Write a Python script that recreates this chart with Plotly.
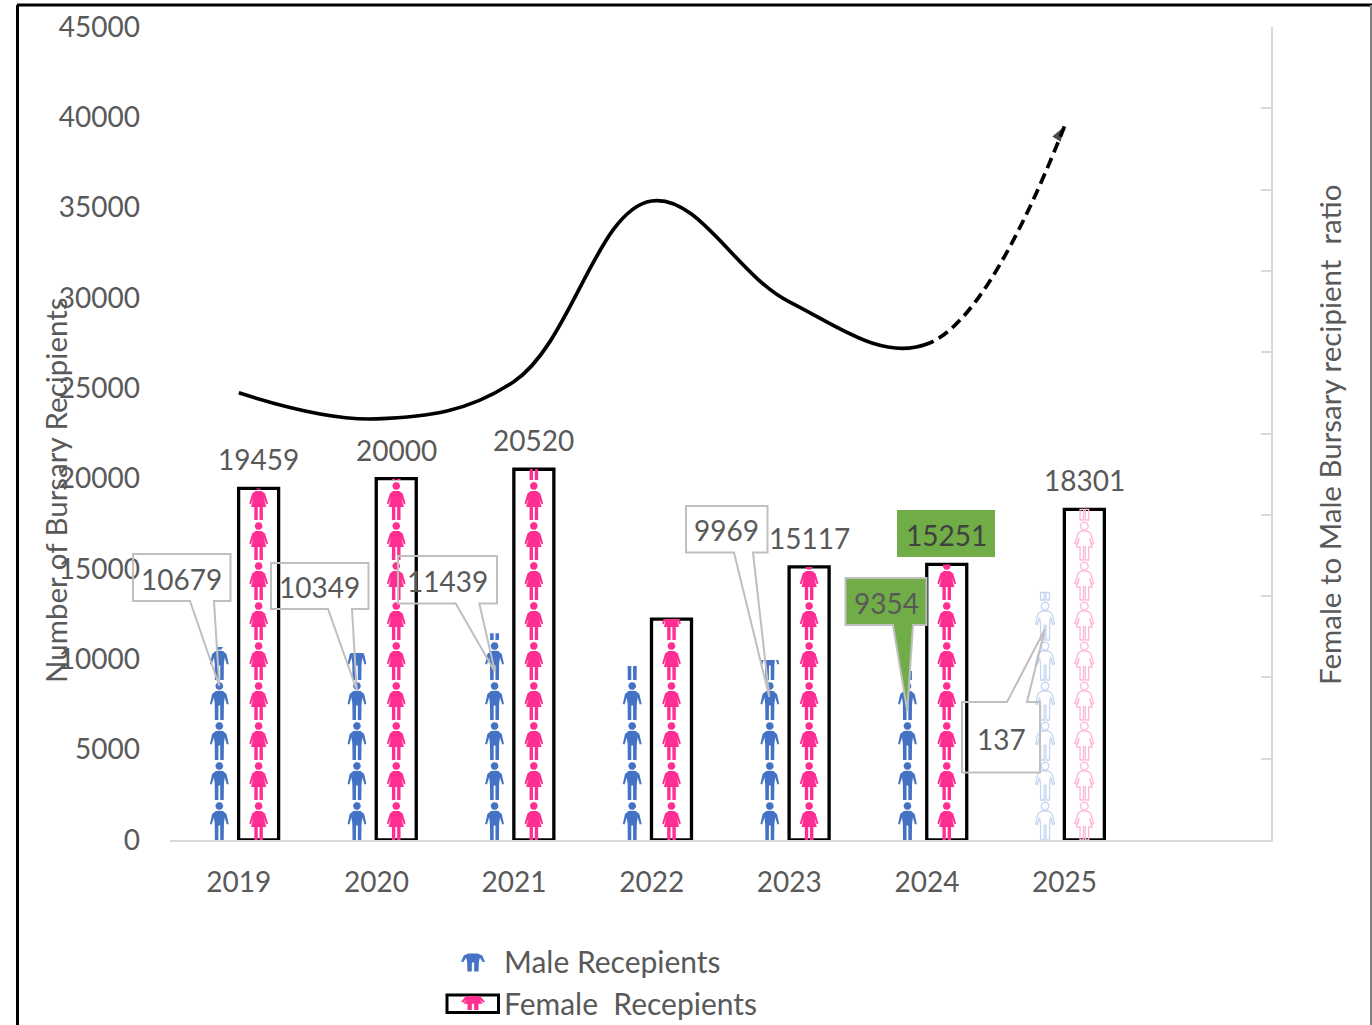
import math
import plotly.graph_objects as go

# Bursary recipients per year
years = ["2019", "2020", "2021", "2022", "2023", "2024", "2025"]
male_recipients = [10679, 10349, 11439, 9630, 9969, 9354, 13700]
female_recipients = [19459, 20000, 20520, 12230, 15117, 15251, 18301]
female_to_male_ratio = [2.75, 2.59, 2.82, 3.93, 3.31, 3.05, 4.39]
male_callout_text = ["10679", "10349", "11439", None, "9969", "9354", "137"]
left_ticks = [0, 5000, 10000, 15000, 20000, 25000, 30000, 35000, 40000, 45000]

# Plot area in page pixels
W, H = 1372, 1025
L, R, T, B = 170, 1271, 27, 840
PX_PER_CAT = (R - L) / 8
UNITS_PER_PX = 45000 / (B - T)
ICON_PX = 40
ICON_UNITS = ICON_PX * UNITS_PER_PX
MALE_OFFSET = -19.5 / PX_PER_CAT
FEMALE_OFFSET = 19.8 / PX_PER_CAT
FORECAST = 6  # the last year is a projection, drawn as hollow figures

GREY = "#595959"
FONT = "Lato"
BLUE, PINK = "#4472C4", "#FF2E93"
BLUE_PALE, PINK_PALE = "#C6D5F0", "#FFB8DC"


def circle(cx, cy, r, n=18):
    return [(cx + r * math.cos(2 * math.pi * k / n), cy + r * math.sin(2 * math.pi * k / n)) for k in range(n)]


def mirror(side):
    return side + [(-x, y) for x, y in reversed(side)]


# Figures in pixels: x from the centre line, y up from the foot of the cell
MAN = [
    circle(0, 34, 3.9),
    mirror([(0, 14.5), (0.9, 14.5), (0.9, 0), (4.4, 0), (4.6, 16), (5.4, 22.5), (7.6, 15.5), (9.4, 16),
            (7.2, 26), (3.6, 29), (0, 29.2)]),
]
WOMAN = [
    circle(0, 34, 3.9),
    mirror([(0, 13), (0.9, 13), (0.9, 0), (4.3, 0), (4.3, 13), (7.6, 13), (5.2, 22), (7.8, 15.5), (9.4, 16.5),
            (6.4, 26.5), (3.0, 29), (0, 29.2)]),
]


def clip_top(poly, ymax):
    """Cut a polygon off at a horizontal line, keeping what lies below it."""
    out = []
    for (x0, y0), (x1, y1) in zip(poly, poly[1:] + poly[:1]):
        in0, in1 = y0 <= ymax, y1 <= ymax
        if in0:
            out.append((x0, y0))
        if in0 != in1:
            t = (ymax - y0) / (y1 - y0)
            out.append((x0 + t * (x1 - x0), ymax))
    return out


def icon_stack(indices, values, offset, figure):
    """Stack figures up to each value, the last one cut to the remainder."""
    xs, ys = [], []
    for i, value in zip(indices, values):
        cells = math.ceil(value / ICON_UNITS)
        for c in range(cells):
            base = c * ICON_UNITS
            top_px = min((value - base) / UNITS_PER_PX, ICON_PX)
            for part in figure:
                poly = clip_top(part, top_px)
                if len(poly) < 3:
                    continue
                poly = poly + poly[:1]
                xs += [i + offset + px / PX_PER_CAT for px, _ in poly] + [None]
                ys += [base + py * UNITS_PER_PX for _, py in poly] + [None]
    return xs, ys


def paper_x(px):
    return (px - L) / (R - L)


def paper_y(py):
    return (B - py) / (B - T)


def path(points, close=True):
    d = "M" + " L".join(f"{paper_x(x):.5f},{paper_y(y):.5f}" for x, y in points)
    return d + (" Z" if close else "")


def page_label(px, py, text, size=28, colour=GREY, **extra):
    opts = dict(xanchor="center", yanchor="middle")
    opts.update(extra)
    return dict(x=paper_x(px), y=paper_y(py), xref="paper", yref="paper", text=text, showarrow=False,
                font=dict(family=FONT, size=size, color=colour), **opts)


fig = go.Figure()
indices = list(range(len(years)))
actual = indices[:FORECAST]

# Outlined female columns
fig.add_trace(go.Bar(
    x=[i + FEMALE_OFFSET for i in indices], y=female_recipients, width=40 / PX_PER_CAT,
    marker=dict(color="rgba(0,0,0,0)", line=dict(color="black", width=3.3)),
    showlegend=False, hoverinfo="skip",
))

# Figure columns: solid for recorded years, hollow for the projection
for values, offset, figure, solid, pale in [
    (male_recipients, MALE_OFFSET, MAN, BLUE, BLUE_PALE),
    (female_recipients, FEMALE_OFFSET, WOMAN, PINK, PINK_PALE),
]:
    xs, ys = icon_stack(actual, values[:FORECAST], offset, figure)
    fig.add_trace(go.Scatter(x=xs, y=ys, mode="lines", fill="toself", fillcolor=solid,
                             line=dict(color=solid, width=0), showlegend=False, hoverinfo="skip"))
    xs, ys = icon_stack([FORECAST], values[FORECAST:], offset, figure)
    fig.add_trace(go.Scatter(x=xs, y=ys, mode="lines", line=dict(color=pale, width=1.3),
                             showlegend=False, hoverinfo="skip"))

# Ratio curve: solid through 2024, dashed to the 2025 projection, arrow at the end
dash_pattern = "848px," + ",".join(["6px,11px"] * 20)
fig.add_trace(go.Scatter(
    x=indices, y=female_to_male_ratio, yaxis="y2", mode="lines+markers",
    line=dict(color="black", width=3.7, shape="spline", smoothing=1.1, dash=dash_pattern),
    marker=dict(symbol="arrow", angleref="previous", color="black",
                size=[0] * FORECAST + [16], line=dict(width=0)),
    showlegend=False, hoverinfo="skip",
))

# Female value labels above the columns
annotations = []
for i, value in enumerate(female_recipients):
    if i == 3:
        continue
    annotations.append(dict(x=i + FEMALE_OFFSET, y=value, xref="x", yref="y", yshift=29, text=str(value),
                            xanchor="center", yanchor="middle", showarrow=False,
                            font=dict(family=FONT, size=28, color="#404040" if i == 5 else GREY)))

shapes = []
# Callouts on the male columns: box left, right, top, bottom; tail start, tip, tail end
callouts = [
    (0, 133, 230.5, 554, 601, 190, (219.3, 686), 214, None, "#BFBFBF"),
    (1, 271, 368.5, 563, 609, 328, (356.7, 690), 352, None, "#BFBFBF"),
    (2, 398, 497, 556, 603.5, 455.7, (495, 672), 479.3, None, "#BFBFBF"),
    (4, 686, 767.5, 506, 552.5, 734, (769.3, 697), 753, None, "#BFBFBF"),
    (5, 845.5, 926.5, 578, 625, 893, (907.3, 711), 913, "#70AD47", "#BFBFBF"),
]
for i, x0, x1, y0, y1, t0, tip, t1, fill, edge in callouts:
    outline = [(x0, y0), (x1, y0), (x1, y1), (t1, y1), tip, (t0, y1), (x0, y1)]
    shapes.append(dict(type="path", xref="paper", yref="paper", path=path(outline),
                       line=dict(color=edge, width=2), fillcolor=fill or "rgba(0,0,0,0)"))
    annotations.append(page_label((x0 + x1) / 2, (y0 + y1) / 2 + 1, male_callout_text[i]))

# The 2025 callout has its tail on the top edge
outline = [(962, 702), (1007, 702), (1045, 629), (1027, 702), (1040, 702), (1040, 772.5), (962, 772.5)]
shapes.append(dict(type="path", xref="paper", yref="paper", path=path(outline),
                   line=dict(color="#BFBFBF", width=2), fillcolor="rgba(0,0,0,0)"))
annotations.append(page_label(1001, 739, male_callout_text[6]))

# Green highlight behind the 2024 female label
shapes.append(dict(type="rect", xref="paper", yref="paper", x0=paper_x(897), x1=paper_x(995),
                   y0=paper_y(510), y1=paper_y(557), fillcolor="#70AD47", line=dict(width=0)))

# Page frame
for x0, y0, x1, y1, colour, width in [
    (17.5, 5, 17.5, H, "black", 3), (17, 5, W, 5, "black", 3), (1371, 5, 1371, H, "#7F7F7F", 2),
]:
    shapes.append(dict(type="line", xref="paper", yref="paper", x0=paper_x(x0), x1=paper_x(x1),
                       y0=paper_y(y0), y1=paper_y(y1), line=dict(color=colour, width=width)))


def legend_glyph(figure, x_mid, bottom, height, fig_height, width, colour):
    for part in figure:
        poly = clip_top(part, fig_height)
        if len(poly) < 3:
            continue
        pts = [(x_mid + px * width / 18.8, bottom - py * height / fig_height) for px, py in poly]
        shapes.append(dict(type="path", xref="paper", yref="paper", path=path(pts),
                           fillcolor=colour, line=dict(width=0)))


# Legend: squat figure glyphs with their labels
legend_glyph(MAN, 473, 971.5, 18, 29.2, 24, BLUE)
shapes.append(dict(type="rect", xref="paper", yref="paper", x0=paper_x(447), x1=paper_x(498.5),
                   y0=paper_y(995), y1=paper_y(1012.5), line=dict(color="black", width=3),
                   fillcolor="white"))
legend_glyph(WOMAN, 473, 1010, 14, 29.2, 24, PINK)
annotations.append(page_label(502, 961, "Male Recepients", size=30, xanchor="left"))
annotations.append(page_label(502, 1003, "Female&nbsp; Recepients", size=30, xanchor="left"))

# Axis titles
annotations.append(page_label(55, 490, "Number of Bursary Recipients", size=29.5, textangle=-90))
annotations.append(page_label(1329, 435, "Female to Male Bursary recipient&nbsp; ratio", size=29.5, textangle=-90))

fig.update_layout(
    width=W, height=H, autosize=False,
    margin=dict(l=L, r=W - R, t=T, b=H - B, pad=0, autoexpand=False),
    paper_bgcolor="white", plot_bgcolor="white", barmode="overlay", showlegend=False,
    font=dict(family=FONT, color=GREY),
    shapes=shapes, annotations=annotations,
    xaxis=dict(range=[-0.5, 7.5], tickmode="array", tickvals=indices, ticktext=years, showgrid=False,
               zeroline=False, showline=True, linecolor="#D9D9D9", linewidth=2, ticks="",
               tickfont=dict(family=FONT, size=28, color=GREY), ticklabelstandoff=16),
    yaxis=dict(range=[0, 45000], tickmode="array", tickvals=left_ticks, showgrid=False, zeroline=False,
               showline=False, ticks="", tickformat="d",
               tickfont=dict(family=FONT, size=28, color=GREY), ticklabelstandoff=29),
    yaxis2=dict(range=[0, 5], dtick=0.5, overlaying="y", side="right", showgrid=False, zeroline=False,
                showline=True, linecolor="#D9D9D9", linewidth=2, ticks="inside", ticklen=10,
                tickcolor="#D9D9D9", tickwidth=2, showticklabels=False),
)

fig.write_html("out.html")
